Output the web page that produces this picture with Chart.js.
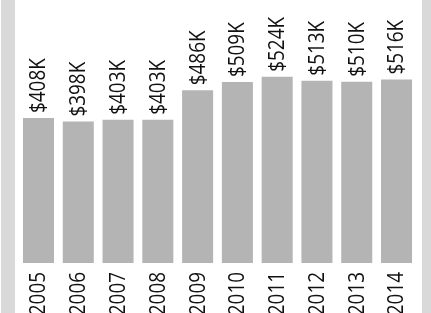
<!DOCTYPE html>
<html>
<head>
<meta charset="utf-8">
<script src="https://cdn.jsdelivr.net/npm/chart.js@4/dist/chart.umd.min.js"></script>
<style>
    html, body { margin: 0; padding: 0; background: #fff; }
    #wrap { position: relative; width: 431px; height: 313px; overflow: hidden; }
    .side { position: absolute; top: 0; height: 313px; background: #d9d9d9; }
    #leftSide { left: 1px; width: 14px; }
    #rightSide { left: 422px; width: 9px; }
    canvas { position: absolute; left: 0; top: 0; }
</style>
</head>
<body>
<div id="wrap">
    <div class="side" id="leftSide"></div>
    <div class="side" id="rightSide"></div>
    <canvas id="chart" width="431" height="313"></canvas>
</div>
<script>
// Values in thousands of dollars
const years = ['2005', '2006', '2007', '2008', '2009', '2010', '2011', '2012', '2013', '2014'];
const values = [408, 398, 403, 403, 486, 509, 524, 513, 510, 516];
const valueLabels = ['$408K', '$398K', '$403K', '$403K', '$486K', '$509K', '$524K', '$513K', '$510K', '$516K'];

const FONT = '21px "Open Sans", sans-serif';
const SQUEEZE = 0.9; // narrow the glyph run a bit, the original font is condensed

// Rotated labels: value above each bar, year below
const rotatedLabels = {
    id: 'rotatedLabels',
    afterDatasetsDraw(chart) {
        const ctx = chart.ctx;
        const meta = chart.getDatasetMeta(0);
        const yScale = chart.scales.y;
        ctx.save();
        ctx.font = FONT;
        ctx.fillStyle = '#111';
        meta.data.forEach((bar, i) => {
            // value label
            ctx.save();
            ctx.translate(bar.x + 1, bar.y - 5);
            ctx.rotate(-Math.PI / 2);
            ctx.scale(SQUEEZE, 1);
            ctx.textAlign = 'left';
            ctx.textBaseline = 'middle';
            ctx.fillText(valueLabels[i], 0, 0);
            ctx.restore();

            // year label
            ctx.save();
            ctx.translate(bar.x + 1, yScale.getPixelForValue(0) + 9);
            ctx.rotate(-Math.PI / 2);
            ctx.scale(SQUEEZE, 1);
            ctx.textAlign = 'right';
            ctx.textBaseline = 'middle';
            ctx.fillText(years[i], 0, 0);
            ctx.restore();
        });
        ctx.restore();
    }
};

new Chart(document.getElementById('chart').getContext('2d'), {
    type: 'bar',
    data: {
        labels: years,
        datasets: [{
            data: values,
            backgroundColor: '#b4b4b4',
            borderWidth: 0,
            categoryPercentage: 1,
            barPercentage: 0.78
        }]
    },
    options: {
        responsive: false,
        animation: false,
        layout: { padding: { left: 18.6, right: 14.6, top: 0, bottom: 50 } },
        plugins: { legend: { display: false }, tooltip: { enabled: false } },
        scales: {
            x: { display: false },
            y: { display: false, min: 0, max: 740 }
        }
    },
    plugins: [rotatedLabels]
});
</script>
</body>
</html>
